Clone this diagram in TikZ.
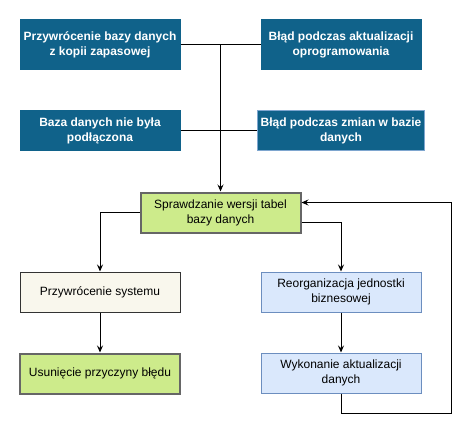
\documentclass[tikz,border=0pt]{standalone}
\usepackage{fontspec}
\setmainfont{Liberation Sans}
\usepackage{xcolor}
\usepackage{tikz}
\usetikzlibrary{arrows.meta, positioning, calc}
\definecolor{darkblue}{HTML}{10628A}
\definecolor{edgeblue}{HTML}{7EA6CF}
\definecolor{lightgreen}{HTML}{CDEB8B}
\definecolor{beige}{HTML}{F9F7ED}
\definecolor{paleblue}{HTML}{DAE8FC}
\definecolor{paleedge}{HTML}{6C8EBF}
\tikzstyle{base}     = [rectangle, minimum width=160pt, minimum height=40pt,
                         inner sep=3pt, align=center, line width=1pt,
                         font=\fontsize{12}{15}\selectfont]
\tikzstyle{cause}    = [base, fill=darkblue, draw=darkblue, text=white,
                         font=\fontsize{12}{15}\selectfont\bfseries]
\tikzstyle{check}    = [base, fill=lightgreen, draw=black!60, line width=2pt]
\tikzstyle{restore}  = [base, fill=beige, draw=black!80]
\tikzstyle{task}     = [base, fill=paleblue, draw=paleedge]
\tikzstyle{arrow}    = [-{Stealth[length=7pt, width=6pt, inset=2.5pt]}, line width=1pt]
\tikzstyle{link}     = [line width=1pt]

\begin{document}
\begin{tikzpicture}[x=1pt, y=1pt]
  \useasboundingbox (0,0) rectangle (470,-430);

  \node[cause, minimum height=50pt] (dbrestore) at (100,-45) {Przywrócenie bazy danych\\z kopii zapasowej};
  \node[cause, minimum height=50pt, right=80pt of dbrestore] (updfail) {Błąd podczas aktualizacji\\oprogramowania};
  \node[cause, below=40pt of dbrestore] (nodb) {Baza danych nie była\\podłączona};
  \node[cause, draw=edgeblue, below=40pt of updfail] (schemafail) {Błąd podczas zmian w bazie\\danych};

  \coordinate (mid) at ($(nodb.south)!0.5!(schemafail.south)$);
  \node[check, below=40pt of mid] (tables) {Sprawdzanie wersji tabel\\bazy danych};

  \node[restore, below=120pt of nodb] (sysrestore) {Przywrócenie systemu};
  \node[check, below=40pt of sysrestore] (fixcause) {Usunięcie przyczyny błędu};
  \node[task, below=120pt of schemafail] (reorg) {Reorganizacja jednostki\\biznesowej};
  \node[task, below=40pt of reorg] (update) {Wykonanie aktualizacji\\danych};

  \draw[link] (dbrestore) -- (updfail);
  \draw[link] (nodb) -- (schemafail);
  \draw[arrow] (dbrestore.east -| tables.north) -- (tables.north);
  \draw[arrow] (tables.west) -| (sysrestore.north);
  \draw[arrow] (sysrestore) -- (fixcause);
  \draw[arrow] ([yshift=-10pt]tables.east) -| (reorg.north);
  \draw[arrow] (reorg) -- (update);
  \draw[arrow] (update.south) -- ++(0,-20) -| ([xshift=150pt, yshift=10pt]tables.east)
    -- ([yshift=10pt]tables.east);

\end{tikzpicture}
\end{document}
